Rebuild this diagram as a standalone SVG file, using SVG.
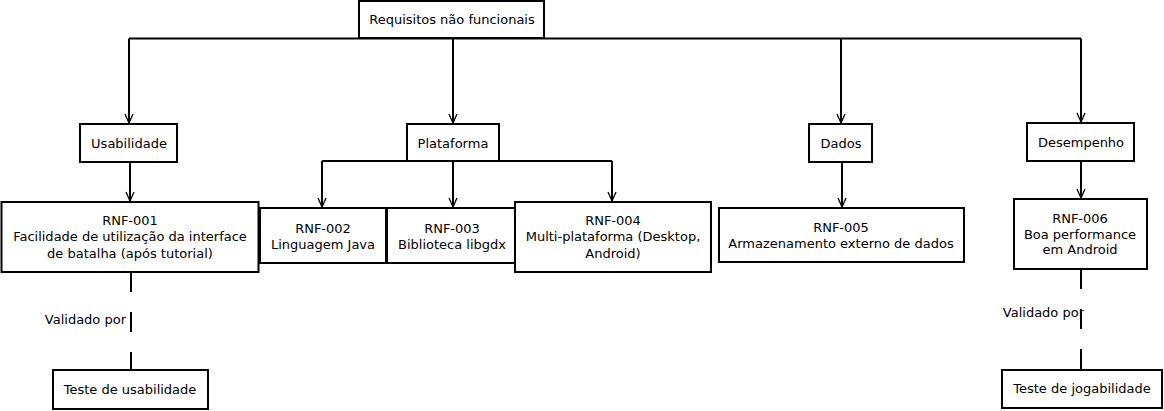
<svg xmlns="http://www.w3.org/2000/svg" width="1164" height="411" viewBox="0 0 1164 411">
<style>
.box{fill:#fff;stroke:#000;stroke-width:2}
.t{font-family:"DejaVu Sans",sans-serif;font-size:13px;fill:#000;text-anchor:middle}
.tr{font-family:"DejaVu Sans",sans-serif;font-size:13px;fill:#000;text-anchor:end}
.c{fill:none;stroke:#000;stroke-width:2}
.d{fill:none;stroke:#000;stroke-width:2;stroke-dasharray:20 20}
</style>
<defs>
<marker id="a" viewBox="-10 -6 12 12" markerWidth="12" markerHeight="12" refX="0" refY="0" orient="auto" markerUnits="userSpaceOnUse">
<path d="M-9,-4 L0,0 L-9,4" fill="none" stroke="#000" stroke-width="1.3"/>
</marker>
</defs>
<g id="connectors">
<path class="c" d="M129,38.5 H1081"/>
<path class="c" d="M129,38.5 V123" marker-end="url(#a)"/>
<path class="c" d="M453,38.5 V123" marker-end="url(#a)"/>
<path class="c" d="M841,38.5 V123" marker-end="url(#a)"/>
<path class="c" d="M1081,38.5 V122" marker-end="url(#a)"/>
<path class="c" d="M130,162 V201" marker-end="url(#a)"/>
<path class="c" d="M322,161 H612"/>
<path class="c" d="M322,161 V207" marker-end="url(#a)"/>
<path class="c" d="M453,162 V207" marker-end="url(#a)"/>
<path class="c" d="M612,161 V201" marker-end="url(#a)"/>
<path class="c" d="M842,162 V207" marker-end="url(#a)"/>
<path class="c" d="M1081,161 V198" marker-end="url(#a)"/>
<path class="d" d="M131,272 V370"/>
<path class="d" d="M1081,269 V369"/>
<text class="tr" x="126" y="323.5">Validado por</text>
<text class="tr" x="1084" y="317">Validado por</text>
</g>
<g id="root"><rect class="box" x="359" y="1" width="185" height="37"/><text class="t" x="452" y="24">Requisitos não funcionais</text></g>
<g id="usabilidade"><rect class="box" x="80" y="124" width="97" height="38"/><text class="t" x="129" y="147.5">Usabilidade</text></g>
<g id="plataforma"><rect class="box" x="407" y="124" width="92" height="37"/><text class="t" x="453" y="147.5">Plataforma</text></g>
<g id="dados"><rect class="box" x="809" y="124" width="63" height="38"/><text class="t" x="841" y="147.5">Dados</text></g>
<g id="desempenho"><rect class="box" x="1027" y="123" width="107" height="38"/><text class="t" x="1081" y="146.5">Desempenho</text></g>
<g id="rnf001"><rect class="box" x="1.5" y="202" width="257" height="70"/><text class="t" x="130" y="224.5">RNF-001</text><text class="t" x="130" y="241">Facilidade de utilização da interface</text><text class="t" x="130" y="257.5">de batalha (após tutorial)</text></g>
<g id="rnf002"><rect class="box" x="260" y="208" width="126" height="55"/><text class="t" x="323" y="232.5">RNF-002</text><text class="t" x="323" y="248.5">Linguagem Java</text></g>
<g id="rnf003"><rect class="box" x="387" y="208" width="129" height="55"/><text class="t" x="452" y="232.5">RNF-003</text><text class="t" x="452" y="248.5">Biblioteca libgdx</text></g>
<g id="rnf004"><rect class="box" x="515" y="202" width="196" height="70"/><text class="t" x="613" y="224.5">RNF-004</text><text class="t" x="613" y="241">Multi-plataforma (Desktop,</text><text class="t" x="613" y="257.5">Android)</text></g>
<g id="rnf005"><rect class="box" x="719" y="208" width="245" height="54"/><text class="t" x="841" y="231.5">RNF-005</text><text class="t" x="841" y="247.5">Armazenamento externo de dados</text></g>
<g id="rnf006"><rect class="box" x="1014" y="199" width="133" height="70"/><text class="t" x="1080" y="222.5">RNF-006</text><text class="t" x="1080" y="238.5">Boa performance</text><text class="t" x="1080" y="254">em Android</text></g>
<g id="teste-usabilidade"><rect class="box" x="53" y="370" width="155" height="39"/><text class="t" x="130" y="394">Teste de usabilidade</text></g>
<g id="teste-jogabilidade"><rect class="box" x="1002" y="370" width="160" height="38"/><text class="t" x="1082" y="393">Teste de jogabilidade</text></g>
</svg>
